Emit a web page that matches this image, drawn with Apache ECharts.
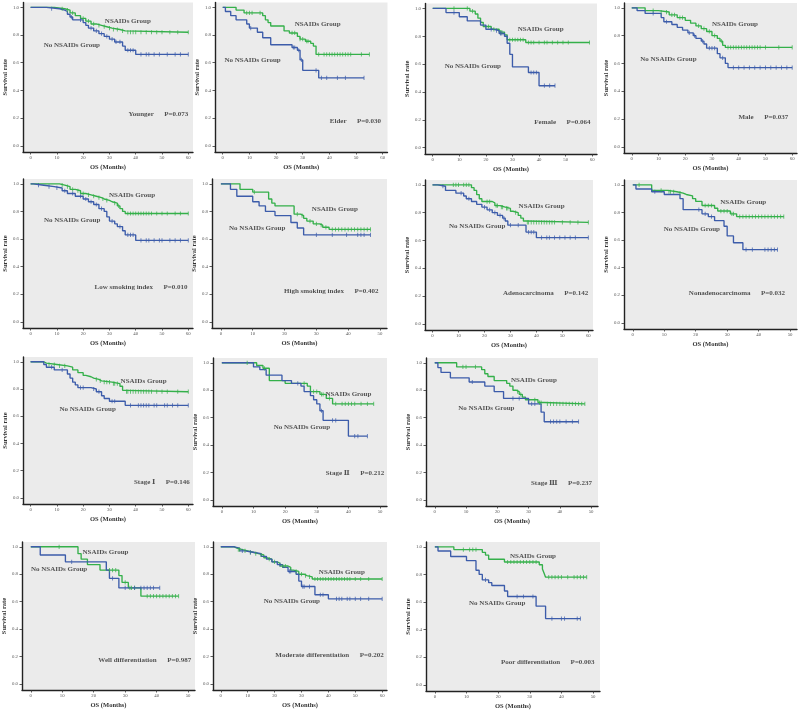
<!DOCTYPE html>
<html><head><meta charset="utf-8">
<script src="https://cdn.jsdelivr.net/npm/echarts@6/dist/echarts.min.js"></script>
<style>html,body{margin:0;padding:0;background:#fff}#c{width:800px;height:721px}</style>
</head><body><div id="c"></div><script>
// ---------- DATA ----------
const panelNames = ['Younger','Elder','Female','Male','Low smoking index','High smoking index','Adenocarcinoma','Nonadenocarcinoma','Stage \u2160','Stage \u2161','Stage \u2162','Well differentiation','Moderate differentiation','Poor differentiation'];
const pValues = ['P=0.073','P=0.030','P=0.064','P=0.037','P=0.010','P=0.402','P=0.142','P=0.032','P=0.146','P=0.212','P=0.237','P=0.987','P=0.202','P=0.003'];
const xTickMax = [60,60,60,60,60,50,60,50,60,50,50,50,60,50];
const xTicks60 = [0,10,20,30,40,50,60];
const xTicks50 = [0,10,20,30,40,50];
const yTicks = [0,0.2,0.4,0.6,0.8,1.0];
const groupNsaid = 'NSAIDs Group';
const groupNo = 'No NSAIDs Group';
const xTitle = 'OS (Months)';
const yTitle = 'Survival rate';

// NSAIDs group: [time, survival after drop]
const nsaidSteps = [
 [[0,1],[9,0.99],[13,0.98],[15,0.96],[17,0.94],[19,0.92],[21,0.90],[23,0.88],[25,0.87],[27,0.86],[29,0.85],[31,0.84],[34,0.83],[36,0.82]],
 [[0,1],[5,0.98],[8,0.96],[15,0.94],[16,0.91],[17,0.89],[18,0.865],[23,0.83],[25,0.815],[28,0.79],[29,0.77],[31,0.755],[33,0.74],[34,0.72],[35,0.66]],
 [[0,1],[14,0.98],[16,0.96],[17,0.93],[18,0.90],[19,0.87],[22,0.85],[25,0.83],[27,0.81],[28,0.775],[35,0.755]],
 [[0,1],[5,0.98],[10,0.97],[14,0.95],[17,0.93],[20,0.91],[22,0.89],[24,0.87],[26,0.85],[28,0.83],[30,0.80],[32,0.78],[33,0.76],[34,0.73],[35,0.715]],
 [[0,1],[11,0.99],[13,0.98],[15,0.96],[17,0.95],[19,0.93],[21,0.92],[23,0.91],[25,0.90],[27,0.89],[28,0.88],[30,0.87],[31,0.86],[33,0.84],[34,0.82],[35,0.80],[36,0.785]],
 [[0,1],[6,0.96],[10,0.94],[15,0.89],[16,0.86],[17,0.84],[23,0.78],[25,0.77],[26,0.75],[27,0.73],[29,0.71],[31,0.70],[32,0.685],[34,0.67]],
 [[0,1],[15,0.98],[16,0.96],[17,0.93],[18,0.90],[19,0.88],[23,0.87],[24,0.85],[26,0.84],[28,0.83],[30,0.81],[31,0.80],[33,0.78],[34,0.76],[35,0.74],[36,0.73]],
 [[0,1],[6,0.96],[11,0.95],[14,0.94],[16,0.93],[17,0.92],[19,0.90],[20,0.88],[22,0.85],[26,0.83],[27,0.81],[31,0.79],[33,0.77]],
 [[0,1],[5,0.99],[6,0.98],[10,0.97],[14,0.96],[16,0.94],[18,0.92],[20,0.90],[21,0.89],[23,0.88],[24,0.87],[26,0.86],[27,0.85],[31,0.84],[34,0.82],[35,0.79],[36,0.78]],
 [[0,1],[11,0.98],[13,0.96],[15,0.87],[20,0.85],[27,0.83],[28,0.79],[31,0.77],[33,0.74],[35,0.70]],
 [[0,1],[7,0.97],[15,0.95],[16,0.92],[17,0.90],[19,0.87],[23,0.85],[24,0.83],[25,0.80],[26,0.79],[27,0.77],[28,0.75],[29,0.73],[33,0.71],[35,0.70]],
 [[0,1],[15,0.95],[16,0.91],[18,0.87],[22,0.83],[28,0.79],[29,0.74],[31,0.70],[35,0.64]],
 [[0,1],[5,0.99],[6,0.98],[8,0.97],[10,0.96],[12,0.95],[14,0.94],[16,0.92],[17,0.91],[19,0.89],[21,0.88],[22,0.86],[25,0.85],[26,0.83],[27,0.82],[29,0.80],[31,0.79],[32,0.78],[34,0.765]],
 [[0,1],[6,0.98],[15,0.96],[16,0.94],[17,0.91],[22,0.89],[33,0.87],[34,0.84],[34.5,0.81],[35,0.78]]
];
const nsaidEnd = [60,55,59,60,60,47,60,48,60,48,48,47,60,48];
const nsaidCensor = [
 [12,14,16,20,22,24,26,28,30,31.5,33,35,37,38,39,40,42,44,46,48,50,53,56,60],
 [9,10,11,14,26,27,29,30,31.5,32,36,38,39,40,41,42,43,44,45,46,47,48,52,55],
 [8,13,15,21,23,25.5,26,29,30,31,32,33,34,36,37,38,40,42,43,45,47,49,51,59],
 [8,11,13,15,16,18,19,25,27,29,31,33.5,36,37,38,39,40,41,42,43,44,45,46,47,48,50,55,60],
 [12,14,16,18,20,22,24,26,27.5,29,32,33.5,37,38,39,40,41,42,43,44,45,46,48,50,52,55,57,60],
 [10.5,24,25.5,28,30,31.5,33,35,36,37,38,39,40,41,42,43,44,45,46,47],
 [8,9,10,12,13,14,21,22,24.5,25,26.5,27,28.5,29,32,36.5,37,38,39,40,41,42,43,44,45,46,47,50,53,56,60],
 [2,9,11.5,12,13,15,23,24,25,28,29,30,31.5,32,34,35,36,37,38,39,40,41,42,43,44,45,46,47,48],
 [7,9,11,13,25,26.5,28,29,30,31.5,32,33,36.5,37,38,39,40,41,42,43,44,45,46,48,50,52,56,60],
 [8,13.5,26,29,30,31.5,32,34,36,38,39,40,41,42,44,46,48],
 [9,10,13,26.5,27.5,32,33.5,34,36,37,38,39,40,41,42,43,44,45,46,47,48],
 [9,25,26,27,30,31.5,32,33,37,38,39,40,41,42,43,44,45,46,47],
 [6.5,7,9,11,13,15,18,20,23,24,28,30,31.5,33,35,36,37,38,39,40,41,42,43,44,45,46,47,48,50,52,55,60],
 [9,11,12,13,23,24,25,26,27,28,29,30,31,32,36,37,38,39,40,42,44,45,46,47,48]
];

// No NSAIDs group: [time, survival after drop]
const noSteps = [
 [[0,1],[6,0.99],[11,0.98],[13,0.97],[14,0.95],[15,0.93],[16,0.91],[20,0.89],[21,0.87],[22,0.85],[24,0.83],[26,0.81],[28,0.79],[30,0.77],[32,0.75],[35,0.72],[36,0.69],[40,0.66]],
 [[0,1],[1,0.97],[3,0.94],[5,0.91],[9,0.88],[10,0.85],[13,0.82],[15,0.78],[18,0.73],[26,0.71],[28,0.69],[29,0.62],[30,0.545],[36,0.49]],
 [[0,1],[5,0.97],[10,0.94],[13,0.91],[18,0.88],[20,0.85],[23,0.84],[25,0.82],[27,0.80],[28,0.75],[29,0.67],[30,0.58],[36,0.54],[40,0.445]],
 [[0,1],[2,0.98],[5,0.96],[11,0.93],[12,0.90],[15,0.88],[17,0.86],[19,0.84],[21,0.82],[23,0.80],[24,0.78],[26,0.76],[27,0.74],[28,0.71],[32,0.67],[33,0.64],[35,0.60],[36,0.57]],
 [[0,1],[1,0.99],[5,0.98],[9,0.97],[12,0.95],[14,0.93],[17,0.91],[20,0.89],[22,0.87],[24,0.85],[26,0.82],[28,0.80],[29,0.76],[30,0.73],[32,0.71],[33,0.69],[35,0.66],[36,0.63],[40,0.59]],
 [[0,1],[3,0.96],[5,0.91],[10,0.87],[12,0.84],[14,0.80],[17,0.77],[22,0.72],[24,0.68],[26,0.63]],
 [[0,1],[2,0.99],[5,0.96],[9,0.94],[12,0.92],[13,0.90],[15,0.88],[17,0.86],[19,0.84],[21,0.82],[23,0.80],[25,0.78],[27,0.76],[28,0.74],[29,0.71],[36,0.66],[40,0.62]],
 [[0,1],[1,0.97],[6,0.95],[10,0.93],[15,0.90],[16,0.82],[22,0.79],[24,0.77],[26,0.74],[29,0.70],[30,0.63],[32,0.58],[35,0.53]],
 [[0,1],[5,0.98],[6,0.96],[9,0.94],[14,0.91],[15,0.88],[16,0.85],[17,0.83],[18,0.81],[23,0.80],[25,0.78],[27,0.75],[28,0.73],[30,0.71],[36,0.68]],
 [[0,1],[10,0.97],[12,0.95],[14,0.91],[19,0.87],[22,0.85],[25,0.83],[26,0.79],[28,0.76],[29,0.73],[30,0.70],[31,0.65],[32,0.58],[40,0.465]],
 [[0,1],[1,0.965],[2,0.93],[5,0.89],[11,0.86],[16,0.83],[19,0.79],[22,0.74],[30,0.70],[34,0.64],[35,0.57]],
 [[0,1],[3,0.94],[11,0.89],[24,0.83],[25,0.77],[28,0.70]],
 [[0,1],[5,0.99],[7,0.97],[9,0.96],[12,0.95],[15,0.93],[17,0.91],[19,0.89],[21,0.87],[23,0.85],[25,0.82],[28,0.80],[29,0.75],[30,0.71],[35,0.65],[40,0.62]],
 [[0,1],[1,0.97],[5,0.93],[10,0.90],[13,0.83],[14,0.80],[15,0.76],[17,0.74],[18,0.72],[22,0.68],[23,0.64],[32,0.57],[35,0.48]]
];
const noEnd = [60,53,46,60,60,47,60,46,60,46,46,41,60,46];
const noCensor = [
 [8,15.5,19,23,25,27,29,31,32.5,34,37,38,39,42,44,45,47,49,52,55,57,60],
 [10.5,26.5,27,28.5,29.5,35,37,39,43,46,53],
 [8,22,24,25.5,26,37,38,39,42,44,46],
 [8,13,21.5,23.5,26.5,29,30,31,34,38,40,42,44,46,48,50,52,54,56,58,60],
 [3,7,10,13,16,19,21,23,25,27,31,34,37,38,39,42,44,45,47,49,50,53,55,57,60],
 [30,35,39.5,43,44,45,47],
 [4,11,14,20,22,24,26,27.5,30,33,37,38,39,42,44,45,47,49,51,53,55,60],
 [7,21,23,25,36,38,42,43,44,45,46],
 [8,12,19,20,24,26,31,32,38,41,42,43,44,45,47,48,51,52,54,56,60],
 [24,31.5,35,36,42,43,46],
 [12,25,27,31,32,37,38,39,40,42,44,46],
 [13,26,30,33,35,36,37,38,39,41],
 [8,11,22,25.5,26,30.5,31,33,37,38,43,44,45,47,48,50,52,55,60],
 [16,26,28,31,37,40,41,45,46]
];

// ---------- LAYOUT ----------
const gridBoxes = [ // [left, top, right, bottom] in px
 [23,2.5,193,152],[215,2.5,387.5,152],[425,3.5,597,154],[624,3,797,153],
 [23,179,193,328],[212,179,387,328],[425,180,593,330],[624,180,797,329],
 [23,357,193,504],[213,358,387,506],[426,358,598,506],
 [22,542,195,690],[213,542,387,690],[426,542,600,691]
];
const nsaidLabelAt = [[37,0.90],[35.6,0.877],[40.6,0.853],[38.6,0.885],[38.6,0.92],[35.8,0.817],[42,0.85],[35.1,0.873],[43,0.86],[40,0.77],[31.7,0.873],[23.75,0.96],[45,0.817],[31,0.93]];
const noLabelAt = [[15.7,0.73],[11.2,0.62],[15.1,0.587],[13.7,0.63],[15.8,0.74],[11.4,0.68],[17.2,0.70],[18.75,0.68],[21.7,0.65],[25.3,0.53],[16.5,0.67],[9,0.835],[26.4,0.60],[19.7,0.59]];
const groupLabelAt = [[60,0.23],[59.4,0.18],[59.4,0.18],[58.5,0.21],[59.7,0.25],[49.5,0.22],[60,0.22],[48.4,0.215],[60.6,0.115],[51.3,0.195],[50.3,0.125],[51,0.17],[60.6,0.207],[50.5,0.165]];

const GREEN = '#34b04a', BLUE = '#3c5caa';
const SERIF = '"Liberation Serif","DejaVu Serif",serif';

function survivalAt(steps, t) {
  let s = steps[0][1];
  for (const [ti, si] of steps) { if (ti <= t) s = si; else break; }
  return s;
}

const grid = [], xAxis = [], yAxis = [], series = [];
gridBoxes.forEach((b, i) => {
  grid.push({left:b[0], top:b[1], width:b[2]-b[0], height:b[3]-b[1], show:true, backgroundColor:'#ebebeb', borderWidth:0});
  const xm = xTickMax[i];
  const ticks = xm === 60 ? xTicks60 : xTicks50;
  xAxis.push({
    gridIndex:i, type:'value', min: xm === 60 ? -2.9 : -2.8, max: xm === 60 ? 61.8 : 52.2,
    axisLine:{show:true, onZero:false, lineStyle:{color:'#222', width:1.4}},
    axisTick:{show:true, customValues:ticks, length:2.5, lineStyle:{color:'#333', width:0.8}},
    axisLabel:{customValues:ticks, fontSize:4.8, margin:3, color:'#555', fontFamily:SERIF},
    splitLine:{show:false},
    name:xTitle, nameLocation:'middle', nameGap:12,
    nameTextStyle:{fontSize:6.5, fontWeight:'bold', color:'#333', fontFamily:SERIF}
  });
  yAxis.push({
    gridIndex:i, type:'value', min:-0.045, max:1.035,
    axisLine:{show:true, onZero:false, lineStyle:{color:'#222', width:1.4}},
    axisTick:{show:true, customValues:yTicks, length:2.5, lineStyle:{color:'#333', width:0.8}},
    axisLabel:{customValues:yTicks, fontSize:4.8, margin:4, color:'#555', fontFamily:SERIF, formatter:v => v.toFixed(1)},
    splitLine:{show:false},
    name:yTitle, nameLocation:'middle', nameGap:9, nameRotate:90,
    nameTextStyle:{fontSize:6.5, fontWeight:'bold', color:'#333', fontFamily:SERIF}
  });
  const groups = [
    [nsaidSteps[i], nsaidEnd[i], nsaidCensor[i], GREEN],
    [noSteps[i], noEnd[i], noCensor[i], BLUE]
  ];
  groups.forEach(([steps, end, cens, col]) => {
    const last = steps[steps.length-1][1];
    series.push({type:'line', xAxisIndex:i, yAxisIndex:i, step:'end', showSymbol:false, silent:true,
      data: steps.concat([[end, last]]), lineStyle:{color:col, width:1.35}, itemStyle:{color:col}, z:3});
    series.push({type:'scatter', xAxisIndex:i, yAxisIndex:i, symbol:'rect', symbolSize:[0.9,4.2], silent:true,
      data: cens.map(t => [t, survivalAt(steps, t)]), itemStyle:{color:col}, z:4});
  });
  const txt = {fontSize:7, fontWeight:'bold', color:'#2b2b2b', fontFamily:SERIF};
  series.push({type:'scatter', xAxisIndex:i, yAxisIndex:i, symbolSize:0, silent:true, z:5,
    data:[
      {value:nsaidLabelAt[i], label:{show:true, position:'inside', formatter:groupNsaid, ...txt}},
      {value:noLabelAt[i], label:{show:true, position:'inside', formatter:groupNo, ...txt}},
      {value:groupLabelAt[i], label:{show:true, position:'left', distance:0, formatter:panelNames[i] + '      ' + pValues[i], ...txt}}
    ]});
});

const chart = echarts.init(document.getElementById('c'), null, {renderer:'canvas'});
chart.setOption({animation:false, backgroundColor:'#fff', grid, xAxis, yAxis, series});
</script></body></html>
